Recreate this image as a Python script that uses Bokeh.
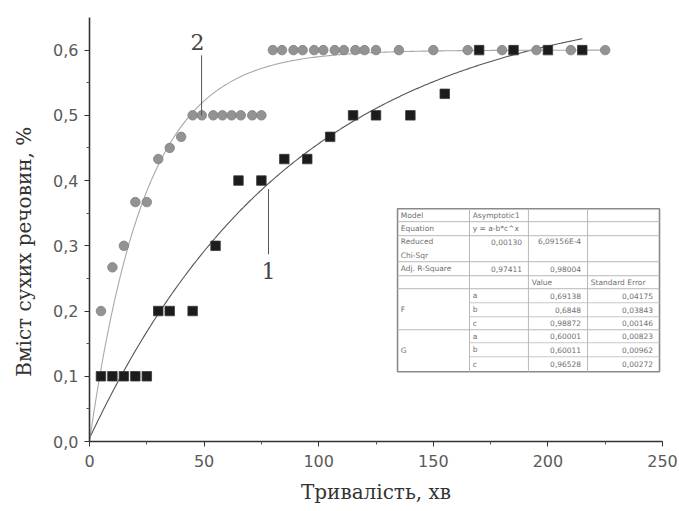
import numpy as np
from bokeh.plotting import figure
from bokeh.models import FixedTicker, CustomJSTickFormatter, Range1d
from bokeh.embed import file_html
from bokeh.resources import INLINE
from bokeh.core.properties import value

# ---- data ----
# series 1 (black squares)
t1 = [5, 10, 15, 20, 25, 30, 35, 45, 55, 65, 75, 85, 95, 105, 115, 125, 140, 155, 170, 185, 200, 215]
y1 = [0.1, 0.1, 0.1, 0.1, 0.1, 0.2, 0.2, 0.2, 0.3, 0.4, 0.4, 0.433, 0.433, 0.467, 0.5, 0.5, 0.5, 0.533,
      0.6, 0.6, 0.6, 0.6]
# series 2 (grey circles)
t2 = [5, 10, 15, 20, 25, 30, 35, 40, 45, 49, 54, 58, 62, 66, 71, 75,
      80, 84, 89, 93, 98, 102, 107, 111, 116, 120, 125, 135, 150, 165, 180, 195, 210, 225]
y2 = [0.2, 0.267, 0.3, 0.367, 0.367, 0.433, 0.45, 0.467, 0.5, 0.5, 0.5, 0.5, 0.5, 0.5, 0.5, 0.5,
      0.6, 0.6, 0.6, 0.6, 0.6, 0.6, 0.6, 0.6, 0.6, 0.6, 0.6, 0.6, 0.6, 0.6, 0.6, 0.6, 0.6, 0.6]

# asymptotic fits y = a - b*c^x (as drawn)
fit1 = dict(a=0.68, b=0.675, c=0.989, xmax=215)
fit2 = dict(a=0.60, b=0.60, c=0.960, xmax=225)

x_ticks = [0, 50, 100, 150, 200, 250]
x_minor = [25, 75, 125, 175, 225]
y_ticks = [0.0, 0.1, 0.2, 0.3, 0.4, 0.5, 0.6]
y_minor = [0.05, 0.15, 0.25, 0.35, 0.45, 0.55]

x_title = "Тривалість, хв"
y_title = "Вміст сухих речовин, %"

# inset table content
tbl_rows = [
    ["Model", "Asymptotic1", "", ""],
    ["Equation", "y = a-b*c^x", "", ""],
    ["Reduced", "0,00130", "6,09156E-4", ""],
    ["Adj. R-Square", "0,97411", "0,98004", ""],
    ["", "", "Value", "Standard Error"],
]
tbl_groups = ["F", "G"]
tbl_params = ["a", "b", "c"]
tbl_values = [["0,69138", "0,6848", "0,98872"], ["0,60001", "0,60011", "0,96528"]]
tbl_errors = [["0,04175", "0,03843", "0,00146"], ["0,00823", "0,00962", "0,00272"]]

# ---- figure ----
p = figure(width=679, height=511, output_backend="svg", toolbar_location=None,
           x_range=Range1d(0, 250), y_range=Range1d(0, 0.65),
           min_border_left=89, min_border_right=17, min_border_top=17, min_border_bottom=70)
p.frame_width = 573
p.frame_height = 424
p.outline_line_color = None
p.grid.visible = False
p.background_fill_color = "white"
p.border_fill_color = "white"

for ax in (p.xaxis[0], p.yaxis[0]):
    ax.axis_line_color = "#333333"
    ax.axis_line_width = 1.6
    ax.major_tick_line_color = "#333333"
    ax.minor_tick_line_color = "#555555"
    ax.major_tick_out = 5
    ax.major_tick_in = 0
    ax.minor_tick_out = 3
    ax.minor_tick_in = 0
    ax.major_label_text_font = "DejaVu Sans"
    ax.major_label_text_font_size = "16px"
    ax.major_label_text_color = "#5a5a5a"
    ax.axis_label_text_font = "DejaVu Serif"
    ax.axis_label_text_font_style = "normal"
    ax.axis_label_text_font_size = "20px"
    ax.axis_label_text_color = "#333333"

p.xaxis.ticker = FixedTicker(ticks=x_ticks, minor_ticks=x_minor)
p.yaxis.ticker = FixedTicker(ticks=y_ticks, minor_ticks=y_minor)
p.yaxis.formatter = CustomJSTickFormatter(code="return tick.toFixed(1).replace('.', ',');")
p.xaxis.major_label_standoff = 8
p.yaxis.major_label_standoff = 6

p.xaxis.axis_label = x_title
p.xaxis.axis_label_standoff = 10
# trailing no-break spaces shift the rotated title down, as in the original
p.yaxis.axis_label = y_title + "\u00a0" * 7
p.yaxis.axis_label_standoff = 14

# ---- fit curves ----
xx1 = np.linspace(0, fit1["xmax"], 300)
p.line(xx1, fit1["a"] - fit1["b"] * fit1["c"] ** xx1, line_color="#555555", line_width=1.1)
xx2 = np.linspace(0, fit2["xmax"], 300)
p.line(xx2, fit2["a"] - fit2["b"] * fit2["c"] ** xx2, line_color="#a8a8a8", line_width=1.1)

# ---- points ----
p.scatter(t2, y2, marker="circle", size=9.5, fill_color="#939393", line_color="#808080", line_width=0.8)
p.scatter(t1, y1, marker="square", size=9.5, fill_color="#1c1c1c", line_color="#3a3a3a", line_width=0.8)

# ---- curve labels ----
p.segment(x0=[48.9, 78.1], y0=[0.5, 0.387], x1=[48.9, 78.1], y1=[0.592, 0.287],
          line_color="#555555", line_width=1)
p.text(x=[47.1, 78.1], y=[0.612, 0.262], text=["2", "1"], text_align="center",
       text_baseline="middle", text_font=value("DejaVu Serif"), text_font_size="22px",
       text_color="#444444")

# ---- inset table ----
tx = [134.4, 165.8, 191.5, 217.3, 248.7]
ty = [0.3569, 0.3370, 0.3155, 0.2756, 0.2541, 0.2342, 0.2127, 0.1912, 0.1713, 0.1514, 0.1299, 0.1069]
p.quad(left=tx[0], right=tx[-1], bottom=ty[-1], top=ty[0], fill_color="white",
       line_color="#8a8a8a", line_width=1.6)
full_h = [ty[i] for i in (1, 2, 3, 4, 5, 8)]
part_h = [ty[i] for i in (6, 7, 9, 10)]
p.segment(x0=[tx[0]] * len(full_h), y0=full_h, x1=[tx[-1]] * len(full_h), y1=full_h,
          line_color="#b8b8b8", line_width=1)
p.segment(x0=[tx[1]] * len(part_h), y0=part_h, x1=[tx[-1]] * len(part_h), y1=part_h,
          line_color="#c8c8c8", line_width=1)
p.segment(x0=tx[1:4], y0=[ty[-1]] * 3, x1=tx[1:4], y1=[ty[0]] * 3,
          line_color="#b8b8b8", line_width=1)

pad = 1.4
txt_x, txt_y, txt_s, txt_a = [], [], [], []
def cell(s, x, y, a):
    txt_x.append(x); txt_y.append(y); txt_s.append(s); txt_a.append(a)

centers = [(ty[i] + ty[i + 1]) / 2 for i in range(len(ty) - 1)]
for r, row in enumerate(tbl_rows):
    yc = centers[r]
    if r == 2:
        yc = ty[2] - 0.009
        cell("Chi-Sqr", tx[0] + pad, ty[3] + 0.01, "left")
    cell(row[0], tx[0] + pad, yc, "left")
    if r < 2:
        cell(row[1], tx[1] + pad, yc, "left")
    else:
        cell(row[1], tx[2] - 2 * pad, yc, "right")
    if r == 4:
        cell(row[2], tx[2] + pad, yc, "left")
        cell(row[3], tx[3] + pad, yc, "left")
    else:
        cell(row[2], tx[3] - 2 * pad, yc, "right")
for g, grp in enumerate(tbl_groups):
    cell(grp, tx[0] + pad, (ty[5 + 3 * g] + ty[8 + 3 * g]) / 2, "left")
    for k, par in enumerate(tbl_params):
        yc = centers[5 + 3 * g + k]
        cell(par, tx[1] + pad, yc, "left")
        cell(tbl_values[g][k], tx[3] - 2 * pad, yc, "right")
        cell(tbl_errors[g][k], tx[4] - 2 * pad, yc, "right")

p.text(x=txt_x, y=txt_y, text=txt_s, text_align=txt_a, text_baseline="middle",
       text_font=value("DejaVu Sans"), text_font_size="7.5px", text_color="#707070")

open("out.html", "w").write(file_html(p, INLINE))
